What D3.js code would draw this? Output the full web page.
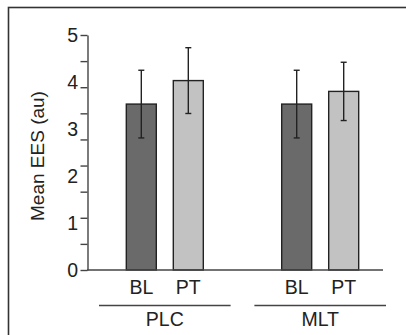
<!DOCTYPE html>
<html lang="en">
<head>
  <meta charset="UTF-8">
  <title>Mean EES</title>
  <style>
    body { margin: 0; background: #fff; }
    svg text { font-family: "Liberation Sans", Arial, sans-serif; fill: #222; }
  </style>
</head>
<body>
<div id="chart"></div>
<script src="https://d3js.org/d3.v7.min.js"></script>
<script>
  // chart data
  const groups = ["PLC", "MLT"];
  const phases = ["BL", "PT"];
  const means = [3.53, 4.03, 3.53, 3.80];   // PLC-BL, PLC-PT, MLT-BL, MLT-PT
  const errs  = [0.72, 0.70, 0.72, 0.62];
  const yLabels = [0, 1, 2, 3, 4, 5];
  const yMinorCount = 10;

  const W = 406, H = 335;
  const svg = d3.select("#chart").append("svg")
    .attr("width", W).attr("height", H);

  // outer frame (runs off the right and bottom)
  svg.append("rect")
    .attr("x", 8.5).attr("y", 7.5)
    .attr("width", 420).attr("height", 340)
    .attr("fill", "none").attr("stroke", "#333").attr("stroke-width", 1.6);

  const y = d3.scaleLinear().domain([0, 5]).range([270, 35]);
  const x0 = d3.scaleBand().domain(groups).range([99, 386])
    .paddingInner(0.153).paddingOuter(0);
  const x1 = d3.scaleBand().domain(phases)
    .range([x0.bandwidth() / 2 - 47, x0.bandwidth() / 2 + 47])
    .paddingInner(0.362).paddingOuter(0.181);
  const fill = { BL: "#6a6a6a", PT: "#c2c2c2" };

  const rows = [];
  groups.forEach((g, gi) => phases.forEach((p, pi) => {
    const k = gi * phases.length + pi;
    rows.push({ group: g, phase: p, mean: means[k], err: errs[k] });
  }));

  // y axis: minor ticks
  const yAxis = svg.append("g")
    .attr("transform", "translate(87.5,0)")
    .call(d3.axisLeft(y)
      .tickValues(d3.range(yMinorCount).map(i => i * 5 / (yMinorCount - 1)))
      .tickFormat("")
      .tickSize(7)
      .tickSizeOuter(0));
  yAxis.selectAll("path, line").attr("stroke", "#444").attr("stroke-width", 1.4);

  // y labels
  svg.append("g").selectAll("text")
    .data(yLabels).join("text")
    .attr("x", 78).attr("y", d => y(d))
    .attr("dy", "0.36em")
    .attr("text-anchor", "end")
    .style("font-size", "19.5px")
    .text(d => d);

  svg.append("text")
    .attr("transform", "translate(44,156) rotate(-90)")
    .attr("text-anchor", "middle")
    .style("font-size", "19px")
    .text("Mean EES (au)");

  // bars
  const bw = 30;
  const cx = d => x0(d.group) + x1(d.phase) + x1.bandwidth() / 2;
  svg.append("g").selectAll("rect")
    .data(rows).join("rect")
    .attr("x", d => cx(d) - bw / 2)
    .attr("y", d => y(d.mean))
    .attr("width", bw)
    .attr("height", d => y(0) - y(d.mean))
    .attr("fill", d => fill[d.phase])
    .attr("stroke", "#222").attr("stroke-width", 1.4);

  // error bars
  const eb = svg.append("g").attr("stroke", "#222").attr("stroke-width", 1.4);
  rows.forEach(d => {
    const c = cx(d);
    eb.append("line").attr("x1", c).attr("x2", c)
      .attr("y1", y(d.mean + d.err)).attr("y2", y(d.mean - d.err));
    [d.mean + d.err, d.mean - d.err].forEach(v => {
      eb.append("line").attr("x1", c - 3).attr("x2", c + 3)
        .attr("y1", y(v)).attr("y2", y(v));
    });
  });

  // x baseline
  svg.append("line")
    .attr("x1", 87).attr("x2", 383)
    .attr("y1", y(0)).attr("y2", y(0))
    .attr("stroke", "#444").attr("stroke-width", 1.4);

  // phase labels
  svg.append("g").selectAll("text")
    .data(rows).join("text")
    .attr("x", d => cx(d)).attr("y", 294)
    .attr("text-anchor", "middle")
    .style("font-size", "19.5px")
    .text(d => d.phase);

  // group lines and labels
  const gg = svg.append("g").selectAll("g")
    .data(groups).join("g");
  gg.append("line")
    .attr("x1", d => x0(d)).attr("x2", d => x0(d) + x0.bandwidth())
    .attr("y1", 305.5).attr("y2", 305.5)
    .attr("stroke", "#444").attr("stroke-width", 1.3);
  gg.append("text")
    .attr("x", d => x0(d) + x0.bandwidth() / 2).attr("y", 326)
    .attr("text-anchor", "middle")
    .style("font-size", "19.5px")
    .text(d => d);
</script>
</body>
</html>
